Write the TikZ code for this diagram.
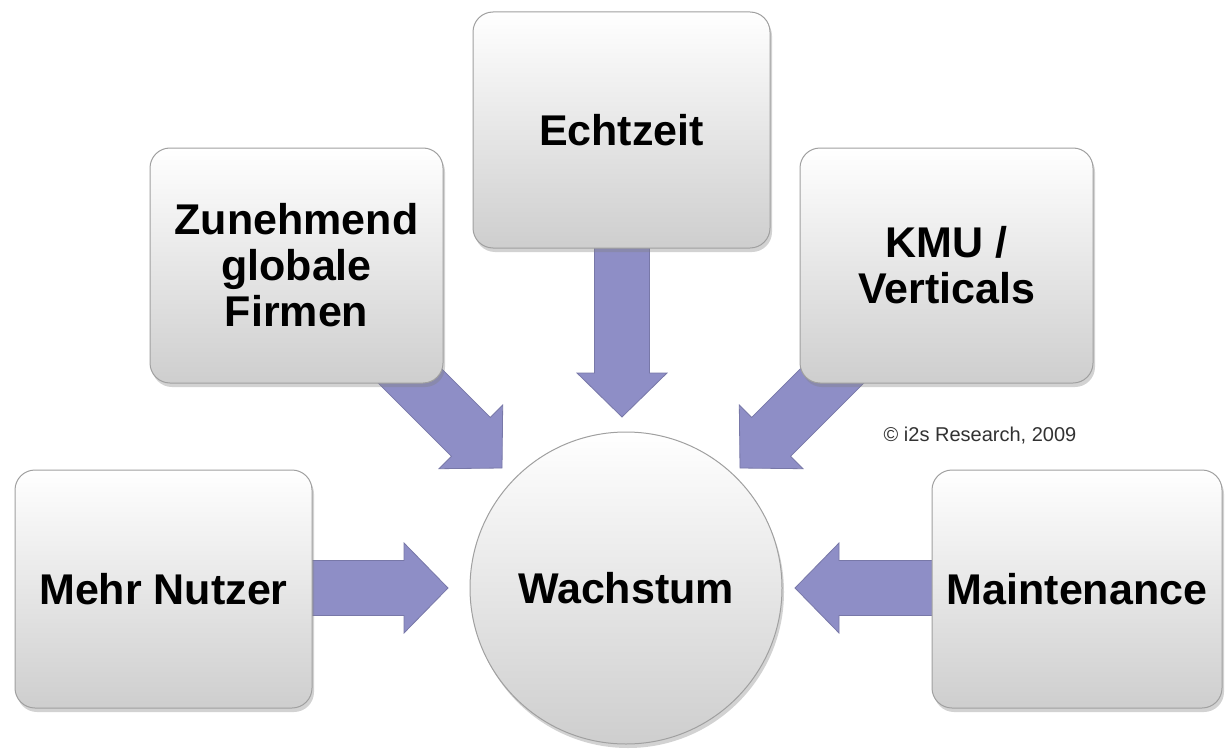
\documentclass[tikz,border=0pt]{standalone}
\usepackage{fontspec}
\setmainfont{Liberation Sans}
\usetikzlibrary{calc,shadows}
\definecolor{arrowfill}{RGB}{142,142,198}
\definecolor{arrowedge}{RGB}{120,120,168}
\definecolor{boxbottom}{RGB}{206,206,206}
\definecolor{boxedge}{RGB}{160,160,160}
\definecolor{copytext}{RGB}{50,50,50}
\tikzset{
  card/.style={rectangle, rounded corners=20pt, draw=boxedge, line width=1pt,
    top color=white, bottom color=boxbottom,
    drop shadow={opacity=0.35, shadow xshift=2pt, shadow yshift=-4pt},
    align=center, inner sep=0pt,
    font=\bfseries\fontsize{43}{46}\selectfont},
  hub/.style={circle, draw=boxedge, line width=1pt,
    top color=white, bottom color=boxbottom,
    drop shadow={opacity=0.35, shadow xshift=2pt, shadow yshift=-4pt},
    minimum size=312pt, inner sep=0pt,
    font=\bfseries\fontsize{43}{46}\selectfont},
  fatarrow/.style={fill=arrowfill, draw=arrowedge, line width=0.8pt, line join=miter},
  note/.style={font=\fontsize{20}{22}\selectfont, text=copytext, inner sep=0pt}
}
% #1 start coordinate, #2 tip coordinate, #3 prefix for helper coordinates
\newcommand{\fatarr}[3]{%
  \coordinate (#3H) at ($(#2)!44pt!(#1)$);
  \draw[fatarrow]
    ($(#1)!27.5pt!90:(#2)$) --
    ($(#3H)!27.5pt!-90:(#1)$) --
    ($(#3H)!45pt!-90:(#1)$) --
    (#2) --
    ($(#3H)!45pt!90:(#1)$) --
    ($(#3H)!27.5pt!90:(#1)$) --
    ($(#1)!27.5pt!-90:(#2)$) -- cycle;
}
\begin{document}
\begin{tikzpicture}[x=1pt,y=-1pt]
  \useasboundingbox[fill=white] (0,0) rectangle (1228,749);

  % anchor coordinates for arrow start points (behind the cards) and tips
  \coordinate (sMehr) at (300,588);
  \coordinate (tMehr) at (448,588);
  \coordinate (sMaint) at (945,588);
  \coordinate (tMaint) at (795,588);
  \coordinate (sEcht) at (622,235);
  \coordinate (tEcht) at (622,417);
  \coordinate (sGlob) at (372,338);
  \coordinate (tGlob) at (502,468);
  \coordinate (sKMU) at (870,338);
  \coordinate (tKMU) at (740,468);

  % connectors (drawn first so the cards cover their tails)
  \fatarr{sMehr}{tMehr}{a}
  \fatarr{sMaint}{tMaint}{b}
  \fatarr{sEcht}{tEcht}{c}
  \fatarr{sGlob}{tGlob}{d}
  \fatarr{sKMU}{tKMU}{e}

  % cards
  \node[card, minimum width=297pt, minimum height=238pt] (mehr) at (163.5,589) {Mehr Nutzer};
  \node[card, minimum width=293pt, minimum height=235pt] (glob) at (296.5,265.5) {Zunehmend\\globale\\Firmen};
  \node[card, minimum width=297pt, minimum height=236pt] (echt) at (621.5,130) {Echtzeit};
  \node[card, minimum width=293pt, minimum height=235pt] (kmu) at (946.5,265.5) {KMU /\\Verticals};
  \node[card, minimum width=290pt, minimum height=238pt] (maint) at (1077,589) {Maintenance};

  % hub
  \node[hub] (wachs) at (626,588) {Wachstum};

  % copyright
  \node[note] (copy) at (980,436) {© i2s Research, 2009};
\end{tikzpicture}
\end{document}
